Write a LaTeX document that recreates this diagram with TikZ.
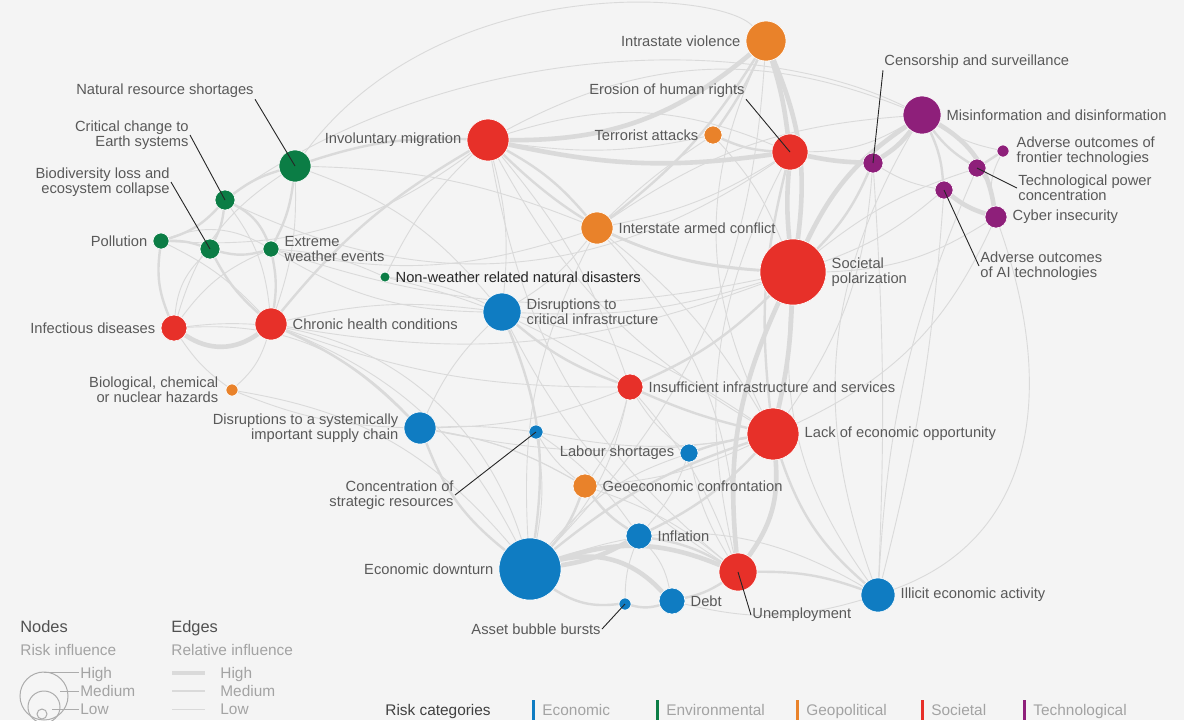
\documentclass[tikz,border=0pt]{standalone}
\usepackage{fontspec}
\setmainfont{Liberation Sans}
\usetikzlibrary{positioning}
\pgfdeclarelayer{back}
\pgfdeclarelayer{links}
\pgfsetlayers{back,links,main}
\definecolor{bgcol}{HTML}{F4F4F4}
\definecolor{ecoblue}{HTML}{0F7CC2}
\definecolor{envgreen}{HTML}{0B7D45}
\definecolor{geoorange}{HTML}{E9822A}
\definecolor{socred}{HTML}{E73029}
\definecolor{techpurple}{HTML}{8E1F7A}
\definecolor{labelgray}{HTML}{595959}
\definecolor{legendgray}{HTML}{A3A3A3}
\definecolor{headgray}{HTML}{505050}
\definecolor{edgegray}{HTML}{DADADA}

\begin{document}
\begin{tikzpicture}
[x=0.5pt,y=-0.5pt,
 risk/.style={circle,inner sep=0pt,draw=white,line width=0.3pt},
 eco/.style={risk,fill=ecoblue},
 env/.style={risk,fill=envgreen},
 geo/.style={risk,fill=geoorange},
 soc/.style={risk,fill=socred},
 tec/.style={risk,fill=techpurple},
 lbl/.style={font=\fontsize{7.35}{7.6}\selectfont,text=labelgray,inner sep=0.5pt},
 lead/.style={draw=black!85,line width=0.45pt},
 w1/.style={draw=edgegray,line width=0.45pt},
 w2/.style={draw=edgegray,line width=1.2pt},
 w3/.style={draw=edgegray,line width=2.3pt},
 head/.style={font=\fontsize{8.2}{9}\selectfont,text=headgray,inner sep=0pt,anchor=base west},
 sub/.style={font=\fontsize{7.7}{9}\selectfont,text=legendgray,inner sep=0pt,anchor=base west}]
\useasboundingbox (0,0) rectangle (1184,720);
\begin{pgfonlayer}{back}
\fill[bgcol] (0,0) rectangle (1184,720);
\end{pgfonlayer}

% economic
\node[eco,minimum size=31pt] (ed)   at (530,569) {};
\node[eco,minimum size=16pt] (dsc)  at (420,428) {};
\node[eco,minimum size=19pt] (dci)  at (502,312) {};
\node[eco,minimum size=7pt]  (csr)  at (536,432) {};
\node[eco,minimum size=9pt]  (ls)   at (689,453) {};
\node[eco,minimum size=13pt] (inf)  at (639,536) {};
\node[eco,minimum size=13pt] (debt) at (672,601) {};
\node[eco,minimum size=6pt]  (abb)  at (625,604) {};
\node[eco,minimum size=17pt] (iea)  at (878,595) {};
% environmental
\node[env,minimum size=16pt] (nrs)  at (295,166) {};
\node[env,minimum size=10pt] (cce)  at (225,200) {};
\node[env,minimum size=8pt]  (pol)  at (161,241) {};
\node[env,minimum size=10pt] (bio)  at (210,249) {};
\node[env,minimum size=8pt]  (ewe)  at (271,249) {};
\node[env,minimum size=5pt]  (nwd)  at (385,277) {};
% geopolitical
\node[geo,minimum size=20pt] (iv)   at (766,41)  {};
\node[geo,minimum size=9pt]  (ta)   at (713,135) {};
\node[geo,minimum size=16pt] (iac)  at (597,228) {};
\node[geo,minimum size=6pt]  (bcn)  at (232,390) {};
\node[geo,minimum size=12pt] (gc)   at (585,486) {};
% societal
\node[soc,minimum size=21pt] (im)   at (488,140) {};
\node[soc,minimum size=18pt] (ehr)  at (790,152) {};
\node[soc,minimum size=33pt] (sp)   at (793,272) {};
\node[soc,minimum size=13pt] (id)   at (174,328) {};
\node[soc,minimum size=16pt] (chc)  at (271,324) {};
\node[soc,minimum size=13pt] (iis)  at (630,387) {};
\node[soc,minimum size=26pt] (leo)  at (773,434) {};
\node[soc,minimum size=19pt] (une)  at (738,572) {};
% technological
\node[tec,minimum size=10pt] (cs)   at (873,163) {};
\node[tec,minimum size=19pt] (mis)  at (922,115) {};
\node[tec,minimum size=6pt]  (aoft) at (1003,151) {};
\node[tec,minimum size=9pt]  (tpc)  at (977,168) {};
\node[tec,minimum size=9pt]  (aoai) at (944,190) {};
\node[tec,minimum size=11pt] (ci)   at (996,217) {};

% labels next to nodes
\node[lbl] (edl)   [left=2pt of ed]   {Economic downturn};
\node[lbl,align=right] (dscl) [left=2pt of dsc] {Disruptions to a systemically\\important supply chain};
\node[lbl,align=left] (dcil) [right=2pt of dci] {Disruptions to\\critical infrastructure};
\node[lbl] (lsl)   [left=2pt of ls]   {Labour shortages};
\node[lbl] (infl)  [right=2pt of inf] {Inflation};
\node[lbl] (debtl) [right=2pt of debt] {Debt};
\node[lbl] (ieal)  [right=2pt of iea] {Illicit economic activity};
\node[lbl] (poll)  [left=2pt of pol]  {Pollution};
\node[lbl,align=left] (ewel) [right=2pt of ewe] {Extreme\\weather events};
\node[lbl,text=black!85] (nwdl) [right=2pt of nwd] {Non-weather related natural disasters};
\node[lbl] (ivl)   [left=2pt of iv]   {Intrastate violence};
\node[lbl] (tal)   [left=2pt of ta]   {Terrorist attacks};
\node[lbl] (iacl)  [right=2pt of iac] {Interstate armed conflict};
\node[lbl,align=right] (bcnl) [left=3pt of bcn] {Biological, chemical\\or nuclear hazards};
\node[lbl] (gcl)   [right=2pt of gc]  {Geoeconomic confrontation};
\node[lbl] (iml)   [left=2pt of im]   {Involuntary migration};
\node[lbl,align=left] (spl) [right=2pt of sp] {Societal\\polarization};
\node[lbl] (idl)   [left=2pt of id]   {Infectious diseases};
\node[lbl] (chcl)  [right=2pt of chc] {Chronic health conditions};
\node[lbl] (iisl)  [right=2pt of iis] {Insufficient infrastructure and services};
\node[lbl] (leol)  [right=2pt of leo] {Lack of economic opportunity};
\node[lbl] (misl)  [right=2pt of mis] {Misinformation and disinformation};
\node[lbl,align=left] (aoftl) [right=3pt of aoft] {Adverse outcomes of\\frontier technologies};
\node[lbl] (cil)   [right=2pt of ci]  {Cyber insecurity};

% labels with leader lines
\node[lbl,anchor=east] (nrsl) at (255,91) {Natural resource shortages};
\node[lbl,anchor=east,align=right] (ccel) at (190,135) {Critical change to\\Earth systems};
\node[lbl,anchor=east,align=right] (biol) at (171,182) {Biodiversity loss and\\ecosystem collapse};
\node[lbl,anchor=east] (ehrl) at (746,91) {Erosion of human rights};
\node[lbl,anchor=west] (csl) at (883,62) {Censorship and surveillance};
\node[lbl,anchor=west,align=left] (tpcl) at (1017,188) {Technological power\\concentration};
\node[lbl,anchor=west,align=left] (aoail) at (979,266) {Adverse outcomes\\of AI technologies};
\node[lbl,anchor=east,align=right] (csrl) at (455,495) {Concentration of\\strategic resources};
\node[lbl,anchor=east] (abbl) at (602,629) {Asset bubble bursts};
\node[lbl,anchor=west] (unel) at (751,615) {Unemployment};

\draw[lead] (nrsl.south east) -- (nrs.center);
\draw[lead] (ccel.east) -- (cce.center);
\draw[lead] (biol.east) -- (bio.center);
\draw[lead] (ehrl.south east) -- (ehr.center);
\draw[lead] (csl.south west) -- (cs.center);
\draw[lead] (tpcl.west) -- (tpc.center);
\draw[lead] (aoail.west) -- (aoai.center);
\draw[lead] (csrl.east) -- (csr.center);
\draw[lead] (abbl.east) -- (abb.center);
\draw[lead] (unel.west) -- (une.center);

% connections
\begin{pgfonlayer}{links}
% long outer arcs
\draw[w1] (nrs) .. controls (440,-30) and (720,-10) .. (iv);
\draw[w1] (cce) .. controls (450,40) and (750,30) .. (mis);
\draw[w1] (ci) .. controls (1060,400) and (1030,540) .. (iea);
\foreach \a/\b/\c in {cce/ehr/-30, pol/im/-20, nrs/iac/10, nrs/dci/15,
  aoai/iea/5, tpc/iea/-10, mis/iea/-25, cs/iea/3, aoft/mis/10, aoft/ci/-20,
  tpc/ci/15, cs/aoai/-10, aoai/sp/10, tpc/sp/-10, ci/sp/15, ci/leo/20, id/ed/40,
  bcn/dsc/-10, bcn/id/10, bcn/chc/-15, chc/ed/20, id/dsc/25, bio/id/-20,
  cce/chc/15, pol/ewe/25, pol/chc/10, id/ewe/15, nwd/dci/10, nwd/ewe/-10,
  nwd/im/10, ewe/dci/-15, chc/dci/10, chc/iis/-10, chc/sp/-15, dsc/csr/5,
  csr/gc/-10, csr/ed/10, dsc/gc/10, dsc/iis/-10, dsc/leo/-10, dci/sp/-10,
  dci/leo/10, dci/une/-15, iac/leo/10, iac/une/20, iac/ed/-15, ta/sp/10,
  ta/iac/-5, ta/im/10, iv/leo/-25, iv/ed/20, im/leo/-15, im/iis/10, im/une/-20,
  im/dci/10, ls/une/-10, ls/inf/10, ls/ed/-15, gc/leo/-10, gc/dsc/-10,
  inf/debt/15, inf/abb/-10, debt/iea/-15, ed/iea/25, iis/une/10, iis/ed/15,
  sp/iea/-20, ehr/iac/10, ehr/im/-20, mis/ehr/15, mis/iac/-15, mis/im/-25,
  ewe/iac/-15, ewe/sp/-15, nwd/iis/10, gc/iis/-10, gc/une/10, ls/iis/10,
  cs/leo/15, ehr/une/-20, bcn/ed/20, dsc/dci/10, dci/iac/-10, csr/inf/10,
  csr/leo/-10, nrs/chc/10, nrs/id/-20}
  \path[w1] (\a) edge[bend left=\c] (\b);
\foreach \a/\b/\c in {iv/iac/10, iv/ta/5, im/iac/10, im/chc/-10, im/nrs/-10,
  im/sp/-20, nrs/cce/-10, pol/bio/10, bio/ewe/-15, cce/bio/10, nrs/ewe/10,
  pol/id/-15, bio/chc/-10, ewe/chc/10, sp/iis/10, leo/iis/5, leo/ed/-10,
  leo/inf/10, une/inf/-10, une/debt/10, abb/debt/-15, abb/ed/20, dsc/ed/-15,
  dci/ed/15, dci/iis/-10, gc/ed/10, gc/inf/-10, ls/leo/5, iea/leo/15,
  iea/une/-10, mis/aoai/10, mis/tpc/-10, tpc/aoft/0, cs/sp/10, ta/ehr/-10,
  chc/dsc/10, ehr/leo/-10, iac/sp/-10, ewe/cce/-20, pol/cce/-15}
  \path[w2] (\a) edge[bend left=\c] (\b);
\foreach \a/\b/\c in {iv/sp/15, ehr/sp/-5, mis/sp/-15, sp/leo/5, sp/une/-15,
  leo/une/20, ed/inf/-10, ed/debt/30, ed/une/20, id/chc/-35, ehr/cs/-5,
  cs/mis/-10, mis/ci/25, im/ehr/-10, iv/ehr/5, aoai/ci/-10, im/iv/-20}
  \path[w3] (\a) edge[bend left=\c] (\b);
\end{pgfonlayer}

% legend: nodes
\node[head] (nodeshd) at (20,632) {Nodes};
\node[sub]  (nodessb) at (20,655) {Risk influence};
\draw[legendgray!90,fill=black!4,line width=0.5pt] (44,696) circle[radius=24];
\draw[legendgray!90,line width=0.5pt] (44,707) circle[radius=16];
\draw[legendgray!90,line width=0.5pt] (42,714) circle[radius=5];
\node[sub] (nhigh) at (80,678) {High};
\node[sub] (nmed)  at (80,696) {Medium};
\node[sub] (nlow)  at (80,714) {Low};
\draw[legendgray!90,line width=0.5pt] (44,672) -- (79,672);
\draw[legendgray!90,line width=0.5pt] (60,691) -- (79,691);
\draw[legendgray!90,line width=0.5pt] (52,709) -- (79,709);

% legend: edges
\node[head] (edgeshd) at (171,632) {Edges};
\node[sub]  (edgessb) at (171,655) {Relative influence};
\node[sub] (ehigh) at (220,678) {High};
\node[sub] (emed)  at (220,696) {Medium};
\node[sub] (elow)  at (220,714) {Low};
\draw[edgegray,line width=2.2pt] (172,673) -- (205,673);
\draw[edgegray,line width=1.4pt] (172,691) -- (205,691);
\draw[edgegray,line width=0.5pt] (172,709) -- (205,709);

% legend: categories
\node[head,text=black!75,font=\fontsize{7.7}{9}\selectfont] (cathd) at (385,715) {Risk categories};
\foreach \x/\col/\txt [count=\i] in {533/ecoblue/Economic, 657/envgreen/Environmental,
  797/geoorange/Geopolitical, 922/socred/Societal, 1024/techpurple/Technological}
{
  \draw[\col,line width=1.5pt] (\x,700) -- (\x,720);
  \node[sub] (cat\i) at (\x+9,715) {\txt};
}
\end{tikzpicture}
\end{document}
